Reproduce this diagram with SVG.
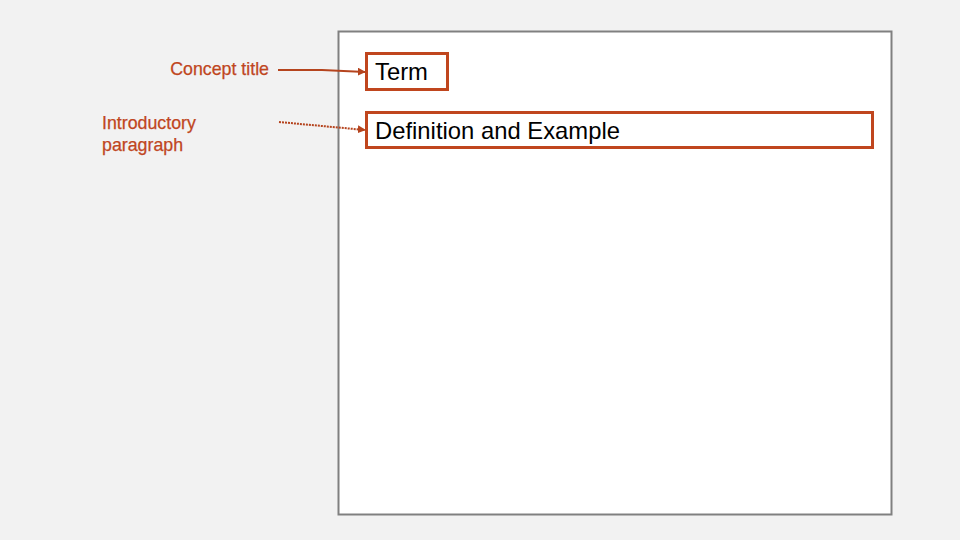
<svg xmlns="http://www.w3.org/2000/svg" width="960" height="540" viewBox="0 0 960 540">
<defs>
<style>
.lbl{font-family:"Liberation Sans",Arial,sans-serif;font-size:17.8px;fill:#c0461e;stroke:#c0461e;stroke-width:0.25}
.box{fill:none;stroke:#c0461e;stroke-width:3}
.bt{font-family:"Liberation Sans",Arial,sans-serif;font-size:23.8px;fill:#000}
.con{fill:none;stroke:#b5441e;stroke-width:2}
</style>
<marker id="ah" viewBox="0 0 10 10" refX="9" refY="5" markerWidth="4" markerHeight="4" orient="auto" markerUnits="strokeWidth">
<path d="M0,0 L10,5 L0,10 z" fill="#b5441e"/>
</marker>
</defs>
<rect width="960" height="540" fill="#f2f2f2"/>
<rect id="page" x="338.5" y="31.5" width="553" height="483" fill="#fff" stroke="#808080" stroke-width="2"/>
<g id="concept-title"><text class="lbl" x="269" y="75" text-anchor="end">Concept title</text></g>
<g id="intro"><text class="lbl" x="102" y="129">Introductory</text><text class="lbl" x="102" y="151">paragraph</text></g>
<g id="term"><rect class="box" x="366.5" y="53.5" width="81" height="36"/><text class="bt" x="375" y="80">Term</text></g>
<g id="definition"><rect class="box" x="366.5" y="112.5" width="506" height="35"/><text class="bt" x="375" y="139" textLength="245" lengthAdjust="spacing">Definition and Example</text></g>
<g id="connectors">
<path class="con" d="M278,70 L322,70 L365,72" marker-end="url(#ah)"/>
<path class="con" d="M279,122 L365,130" stroke-dasharray="2,1" marker-end="url(#ah)"/>
</g>
</svg>
